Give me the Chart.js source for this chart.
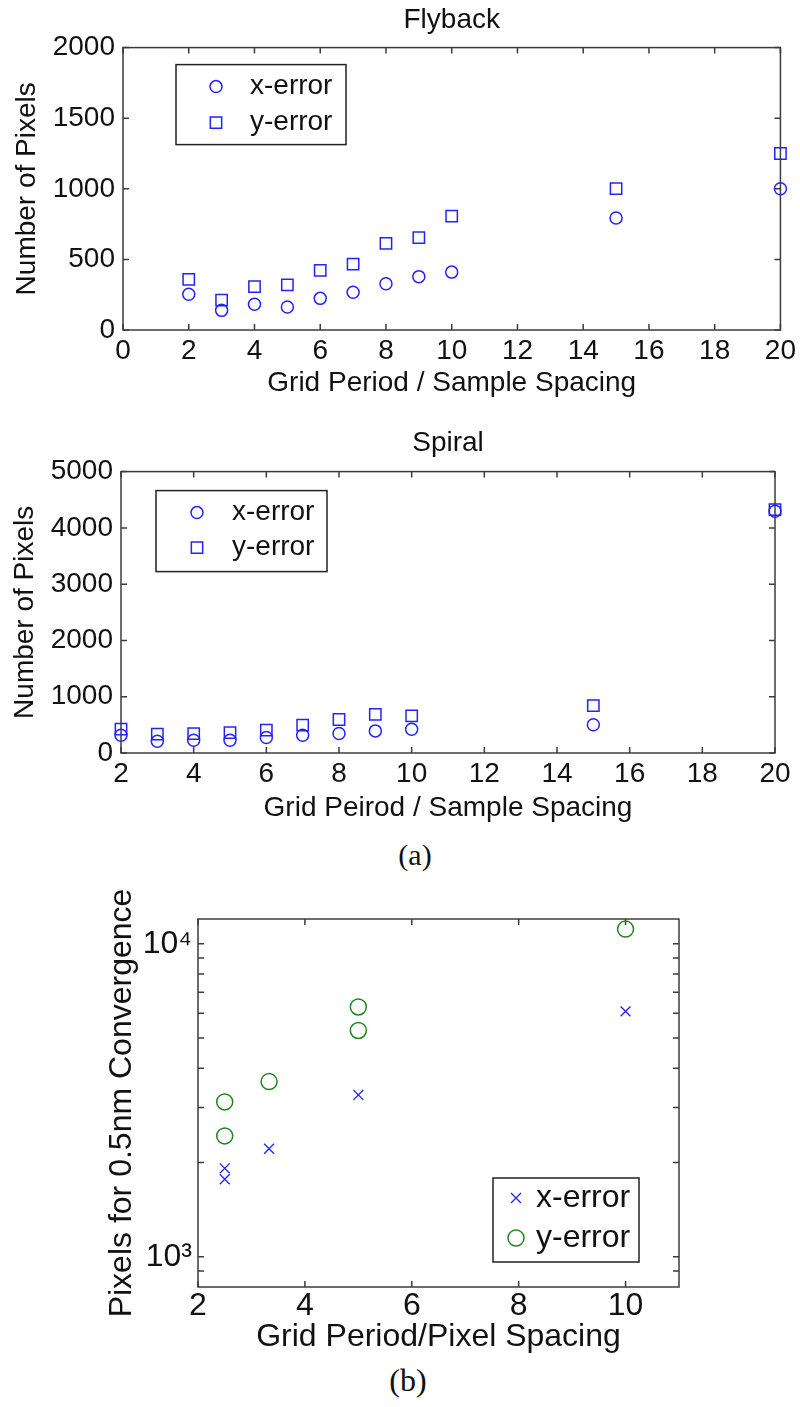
<!DOCTYPE html>
<html>
<head>
<meta charset="utf-8">
<title>Pixels vs grid period</title>
<script src="https://cdn.jsdelivr.net/npm/chart.js@4.4.1/dist/chart.umd.min.js"></script>
<style>
  body { margin: 0; background: #fff; }
  #page { position: relative; width: 800px; height: 1407px; overflow: hidden; background: #fff; }
  canvas { position: absolute; left: 0; }
  .cap { position: absolute; font-family: "Liberation Serif", "Times New Roman", serif; color: #111; transform: translate(-50%, -50%); }
</style>
</head>
<body>
<div id="page">
  <canvas id="flyback" width="800" height="400" style="top:0"></canvas>
  <canvas id="spiral" width="800" height="405" style="top:420px"></canvas>
  <div class="cap" style="left:415px; top:855px; font-size:30px">(a)</div>
  <canvas id="conv" width="800" height="486" style="top:870px"></canvas>
  <div class="cap" style="left:408px; top:1380px; font-size:32px">(b)</div>
</div>
<script>
// panel (a) data
const periods = [2, 3, 4, 5, 6, 7, 8, 9, 10, 15, 20];
const flybackX = [253, 139, 182, 163, 224, 267, 328, 378, 410, 793, 1000];
const flybackY = [359, 212, 307, 319, 422, 467, 614, 654, 807, 1001, 1250];
const spiralX = [316, 210, 225, 226, 274, 316, 345, 393, 423, 503, 4295];
const spiralY = [423, 335, 345, 363, 405, 494, 595, 685, 661, 841, 4325];

// panel (b) data
const convXPeriods = [2.5, 2.5, 3.33, 5, 10];
const convXErr = [1916, 1768, 2213, 3289, 6081];
const convYPeriods = [2.5, 2.5, 3.33, 5, 5, 10];
const convYErr = [3124, 2432, 3627, 6281, 5284, 11140];

// ticks
const flybackXTicks = [0, 2, 4, 6, 8, 10, 12, 14, 16, 18, 20];
const flybackYTicks = [0, 500, 1000, 1500, 2000];
const spiralXTicks = [2, 4, 6, 8, 10, 12, 14, 16, 18, 20];
const spiralYTicks = [0, 1000, 2000, 3000, 4000, 5000];
const convXTicks = [2, 4, 6, 8, 10];
const convYTicks = [900, 1000, 2000, 3000, 4000, 5000, 6000, 7000, 8000, 9000, 10000];
const convYLabels = { 1000: '10\u00B3', 10000: '10\u2074' };

const BLUE = 'rgb(35,35,255)';
const GREEN = 'rgb(30,135,30)';
const AXIS = '#3c3c3c';
const TEXT = '#111';

Chart.defaults.font.family = '"Liberation Sans", Arial, sans-serif';
Chart.defaults.color = TEXT;

function drawMarker(ctx, style, x, y, r) {
    ctx.beginPath();
    if (style === 'circle') {
        ctx.arc(x, y, r, 0, Math.PI * 2);
    } else if (style === 'rect') {
        const s = r * Math.SQRT1_2;
        ctx.rect(x - s, y - s, 2 * s, 2 * s);
    } else {
        const s = r * Math.SQRT1_2;
        ctx.moveTo(x - s, y - s); ctx.lineTo(x + s, y + s);
        ctx.moveTo(x - s, y + s); ctx.lineTo(x + s, y - s);
    }
    ctx.stroke();
}

// matlab style box with inward ticks on all four sides
const matlabBox = {
    id: 'matlabBox',
    beforeDatasetsDraw(chart) {
        const { ctx, chartArea: a, scales } = chart;
        const len = 6;
        ctx.save();
        ctx.strokeStyle = AXIS;
        ctx.lineWidth = 1.5;
        ctx.beginPath();
        scales.x.ticks.forEach(t => {
            const px = scales.x.getPixelForValue(t.value);
            ctx.moveTo(px, a.bottom); ctx.lineTo(px, a.bottom - len);
            ctx.moveTo(px, a.top); ctx.lineTo(px, a.top + len);
        });
        scales.y.ticks.forEach(t => {
            const py = scales.y.getPixelForValue(t.value);
            ctx.moveTo(a.left, py); ctx.lineTo(a.left + len, py);
            ctx.moveTo(a.right, py); ctx.lineTo(a.right - len, py);
        });
        ctx.stroke();
        ctx.strokeRect(a.left, a.top, a.right - a.left, a.bottom - a.top);
        ctx.restore();
    }
};

// legend drawn inside the axes with a frame
const boxLegend = {
    id: 'boxLegend',
    afterDraw(chart, args, o) {
        const { ctx, chartArea: a } = chart;
        const bx = a.left + o.x, by = a.top + o.y;
        ctx.save();
        ctx.fillStyle = '#fff';
        ctx.fillRect(bx, by, o.w, o.h);
        ctx.strokeStyle = '#222';
        ctx.lineWidth = 1.5;
        ctx.strokeRect(bx, by, o.w, o.h);
        chart.data.datasets.forEach((ds, i) => {
            const y = by + o.rows[i];
            ctx.strokeStyle = ds.borderColor;
            ctx.lineWidth = ds.pointBorderWidth;
            drawMarker(ctx, ds.pointStyle, bx + o.markerX, y, ds.pointRadius);
            ctx.fillStyle = TEXT;
            ctx.font = o.fontSize + 'px "Liberation Sans", Arial, sans-serif';
            ctx.textBaseline = 'middle';
            ctx.textAlign = 'left';
            ctx.fillText(ds.label, bx + o.textX, y);
        });
        ctx.restore();
    }
};

function pts(xs, ys) {
    return xs.map((x, i) => ({ x: x, y: ys[i] }));
}

function plain(v) {
    return String(v);
}

function axis(extra) {
    return Object.assign({
        type: 'linear',
        grid: { display: false, drawTicks: false },
        border: { display: false }
    }, extra);
}

function panelA(id, name, xs, ys, xTicks, xMin, yTicks, yMax, xTitle, lay) {
    new Chart(document.getElementById(id), {
        type: 'scatter',
        data: {
            datasets: [
                { label: 'x-error', data: pts(periods, xs), pointStyle: 'circle', pointRadius: 6,
                  borderColor: BLUE, backgroundColor: 'transparent', pointBorderWidth: 1.5, clip: false },
                { label: 'y-error', data: pts(periods, ys), pointStyle: 'rect', pointRadius: 8,
                  borderColor: BLUE, backgroundColor: 'transparent', pointBorderWidth: 1.5, clip: false }
            ]
        },
        options: {
            responsive: false,
            animation: false,
            events: [],
            layout: { padding: { left: 0, right: lay.right, top: 0, bottom: 0 } },
            plugins: {
                legend: { display: false },
                tooltip: { enabled: false },
                title: { display: true, text: name, fullSize: false, color: TEXT,
                         font: { size: 28, weight: 'normal' }, padding: lay.titlePad },
                boxLegend: lay.legend
            },
            scales: {
                x: axis({
                    min: xMin, max: 20,
                    afterBuildTicks: s => { s.ticks = xTicks.map(v => ({ value: v })); },
                    afterFit: s => { s.height = lay.xh; },
                    ticks: { autoSkip: false, maxRotation: 0, color: TEXT, padding: 4, font: { size: 28 }, callback: plain },
                    title: { display: true, text: xTitle, color: TEXT, font: { size: 28 }, padding: { top: 0, bottom: 0 } }
                }),
                y: axis({
                    min: 0, max: yMax,
                    afterBuildTicks: s => { s.ticks = yTicks.map(v => ({ value: v })); },
                    afterFit: s => { s.width = lay.yw; },
                    ticks: { autoSkip: false, color: TEXT, padding: 8, font: { size: 28 }, callback: plain },
                    title: { display: true, text: 'Number of Pixels', color: TEXT, font: { size: 28 }, padding: { top: lay.ytPad, bottom: 0 } }
                })
            }
        },
        plugins: [matlabBox, boxLegend]
    });
}

panelA('flyback', 'Flyback', flybackX, flybackY, flybackXTicks, 0, flybackYTicks, 2000,
    'Grid Period / Sample Spacing',
    { right: 18, xh: 70, yw: 123, ytPad: 10, titlePad: { top: 3, bottom: 11 },
      legend: { x: 53, y: 17, w: 170, h: 80, markerX: 40, textX: 74, rows: [22, 58], fontSize: 28 } });

panelA('spiral', 'Spiral', spiralX, spiralY, spiralXTicks, 2, spiralYTicks, 5000,
    'Grid Peirod / Sample Spacing',
    { right: 25, xh: 72, yw: 121, ytPad: 8, titlePad: { top: 6, bottom: 12 },
      legend: { x: 35, y: 19, w: 171, h: 81, markerX: 41, textX: 76, rows: [22, 57], fontSize: 28 } });

new Chart(document.getElementById('conv'), {
    type: 'scatter',
    data: {
        datasets: [
            { label: 'x-error', data: pts(convXPeriods, convXErr), pointStyle: 'crossRot', pointRadius: 7,
              borderColor: BLUE, backgroundColor: 'transparent', pointBorderWidth: 1.3, clip: false },
            { label: 'y-error', data: pts(convYPeriods, convYErr), pointStyle: 'circle', pointRadius: 8,
              borderColor: GREEN, backgroundColor: 'transparent', pointBorderWidth: 1.5, clip: false }
        ]
    },
    options: {
        responsive: false,
        animation: false,
        events: [],
        layout: { padding: { left: 0, right: 121, top: 49, bottom: 0 } },
        plugins: {
            legend: { display: false },
            tooltip: { enabled: false },
            boxLegend: { x: 295, y: 259, w: 146, h: 84, markerX: 23, textX: 43, rows: [20, 60], fontSize: 32 }
        },
        scales: {
            x: axis({
                min: 2, max: 11,
                afterBuildTicks: s => { s.ticks = convXTicks.map(v => ({ value: v })); },
                afterFit: s => { s.height = 69; },
                ticks: { autoSkip: false, maxRotation: 0, color: TEXT, padding: 0, font: { size: 32 }, callback: plain },
                title: { display: true, text: 'Grid Period/Pixel Spacing', color: TEXT, font: { size: 32 }, padding: { top: 0, bottom: 0 } }
            }),
            y: axis({
                type: 'logarithmic',
                min: 800, max: 12000,
                afterBuildTicks: s => { s.ticks = convYTicks.map(v => ({ value: v })); },
                afterFit: s => { s.width = 198; },
                ticks: { autoSkip: false, color: TEXT, padding: 6, font: { size: 32 },
                         callback: v => convYLabels[v] || '' },
                title: { display: true, text: 'Pixels for 0.5nm Convergence', color: TEXT, font: { size: 32 }, padding: { top: 103, bottom: 0 } }
            })
        }
    },
    plugins: [matlabBox, boxLegend]
});
</script>
</body>
</html>
